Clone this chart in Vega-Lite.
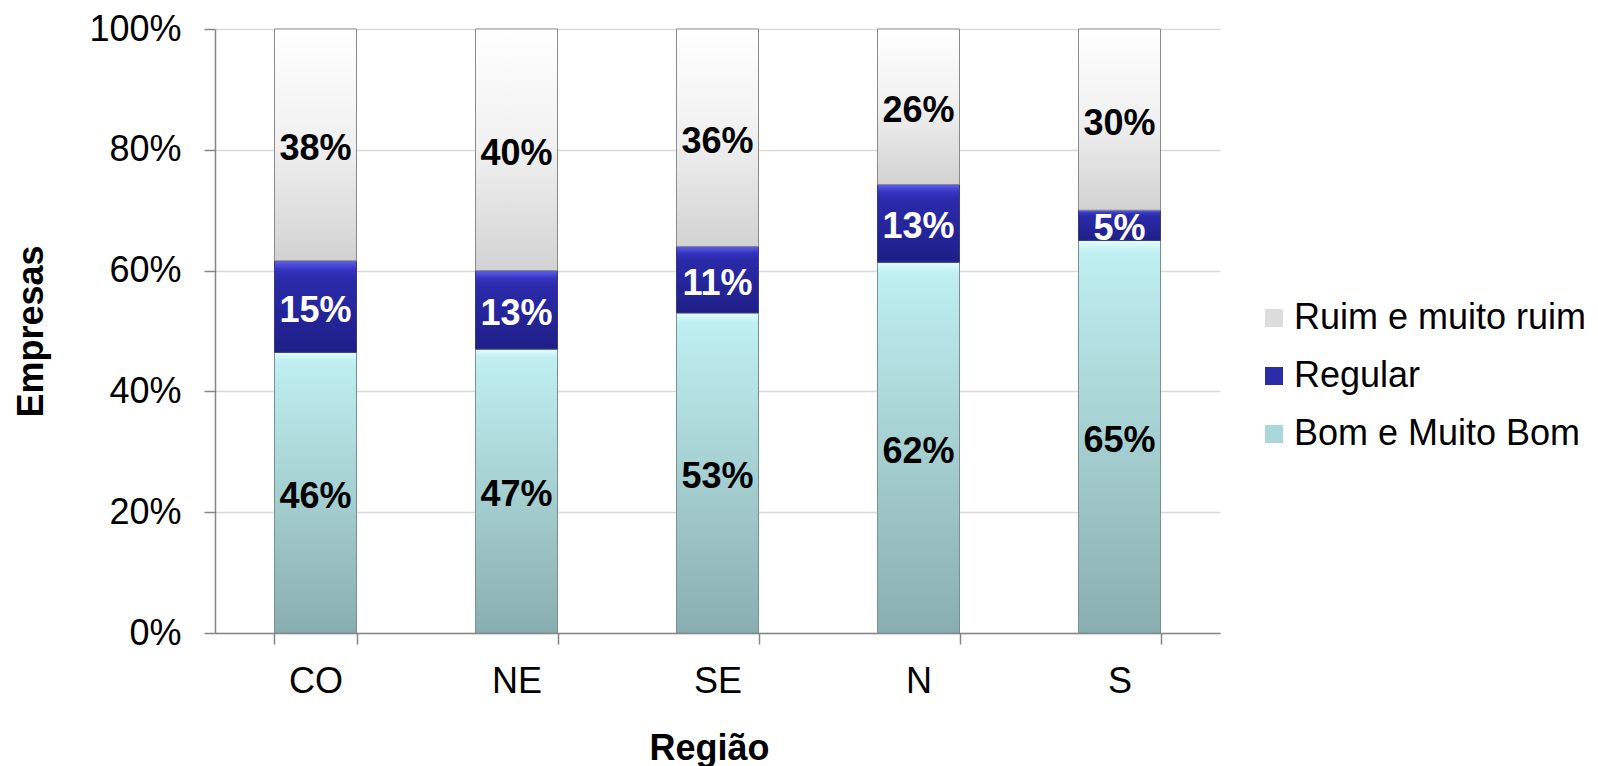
{
  "$schema": "https://vega.github.io/schema/vega-lite/v6.json",
  "autosize": {"type": "none"},
  "padding": {"left": 215, "top": 29, "right": 378, "bottom": 133},
  "width": 1005,
  "height": 604,
  "background": "white",
  "config": {
    "view": {"stroke": null},
    "font": "Liberation Sans",
    "axis": {
      "domainColor": "#868686",
      "domainWidth": 1.5,
      "tickColor": "#868686",
      "tickWidth": 1.5,
      "tickSize": 11,
      "gridColor": "#d9d9d9",
      "gridWidth": 1.5,
      "labelFont": "Liberation Sans",
      "labelFontSize": 36,
      "labelColor": "black",
      "titleFont": "Liberation Sans",
      "titleFontSize": 36,
      "titleFontWeight": "bold",
      "titleColor": "black"
    },
    "legend": {
      "labelFont": "Liberation Sans",
      "labelFontSize": 36,
      "labelColor": "black",
      "labelLimit": 0
    }
  },
  "data": {
    "values": [
      {"regiao": "CO", "cat": "Bom e Muito Bom", "value": 0.46},
      {"regiao": "CO", "cat": "Regular", "value": 0.15},
      {"regiao": "CO", "cat": "Ruim e muito ruim", "value": 0.38},
      {"regiao": "NE", "cat": "Bom e Muito Bom", "value": 0.47},
      {"regiao": "NE", "cat": "Regular", "value": 0.13},
      {"regiao": "NE", "cat": "Ruim e muito ruim", "value": 0.40},
      {"regiao": "SE", "cat": "Bom e Muito Bom", "value": 0.53},
      {"regiao": "SE", "cat": "Regular", "value": 0.11},
      {"regiao": "SE", "cat": "Ruim e muito ruim", "value": 0.36},
      {"regiao": "N", "cat": "Bom e Muito Bom", "value": 0.62},
      {"regiao": "N", "cat": "Regular", "value": 0.13},
      {"regiao": "N", "cat": "Ruim e muito ruim", "value": 0.26},
      {"regiao": "S", "cat": "Bom e Muito Bom", "value": 0.65},
      {"regiao": "S", "cat": "Regular", "value": 0.05},
      {"regiao": "S", "cat": "Ruim e muito ruim", "value": 0.30}
    ]
  },
  "transform": [
    {"stack": "value", "groupby": ["regiao"], "sort": [{"field": "cat", "order": "ascending"}], "offset": "normalize", "as": ["y0", "y1"]}
  ],
  "encoding": {
    "x": {
      "field": "regiao",
      "type": "nominal",
      "sort": ["CO", "NE", "SE", "N", "S"],
      "scale": {"paddingInner": 0.592, "paddingOuter": 0.296},
      "axis": {
        "title": "Região",
        "labelAngle": 0,
        "labelBaseline": "alphabetic",
        "labelPadding": 48,
        "tickBand": "extent",
        "grid": false,
        "titleX": 494,
        "titleY": 126,
        "titleAlign": "center",
        "titleBaseline": "alphabetic"
      }
    }
  },
  "layer": [
    {
      "mark": {"type": "bar"},
      "encoding": {
        "y": {
          "field": "y0",
          "type": "quantitative",
          "scale": {"domain": [0, 1], "nice": false},
          "axis": {
            "title": "Empresas",
            "format": ".0%",
            "values": [0, 0.2, 0.4, 0.6, 0.8, 1],
            "labelPadding": 23,
            "grid": true,
            "titleAngle": 270,
            "titleX": -173,
            "titleY": 302,
            "titleAlign": "center",
            "titleBaseline": "alphabetic"
          }
        },
        "y2": {"field": "y1"},
        "color": {
          "field": "cat",
          "type": "nominal",
          "scale": {
            "domain": ["Ruim e muito ruim", "Regular", "Bom e Muito Bom"],
            "range": ["#dcdcdc", "#2c2ca8", "#a9d8da"]
          },
          "legend": {
            "title": null,
            "orient": "none",
            "legendX": 1041,
            "legendY": 271,
            "padding": 0,
            "symbolType": "square",
            "symbolSize": 324,
            "symbolStrokeWidth": 0,
            "labelOffset": 2,
            "rowPadding": 22
          }
        }
      }
    },
    {
      "transform": [{"filter": "datum.cat === 'Bom e Muito Bom'"}],
      "mark": {
        "type": "bar",
        "stroke": "#7a8f90",
        "strokeWidth": 1,
        "color": {
          "gradient": "linear", "x1": 0, "y1": 0, "x2": 0, "y2": 1,
          "stops": [
            {"offset": 0, "color": "#e4fdfd"},
            {"offset": 0.03, "color": "#bfeff1"},
            {"offset": 1, "color": "#8aaeaf"}
          ]
        }
      },
      "encoding": {
        "y": {"field": "y0", "type": "quantitative"},
        "y2": {"field": "y1"}
      }
    },
    {
      "transform": [{"filter": "datum.cat === 'Regular'"}],
      "mark": {
        "type": "bar",
        "stroke": "#3a3a7a",
        "strokeWidth": 1,
        "color": {
          "gradient": "linear", "x1": 0, "y1": 0, "x2": 0, "y2": 1,
          "stops": [
            {"offset": 0, "color": "#6060f0"},
            {"offset": 0.1, "color": "#3434c0"},
            {"offset": 0.2, "color": "#2a2aaa"},
            {"offset": 1, "color": "#1f1f88"}
          ]
        }
      },
      "encoding": {
        "y": {"field": "y0", "type": "quantitative"},
        "y2": {"field": "y1"}
      }
    },
    {
      "transform": [{"filter": "datum.cat === 'Ruim e muito ruim'"}],
      "mark": {
        "type": "bar",
        "stroke": "#8a8a8a",
        "strokeWidth": 1,
        "color": {
          "gradient": "linear", "x1": 0, "y1": 0, "x2": 0, "y2": 1,
          "stops": [
            {"offset": 0, "color": "#ffffff"},
            {"offset": 0.5, "color": "#f0f0f0"},
            {"offset": 1, "color": "#d2d2d2"}
          ]
        }
      },
      "encoding": {
        "y": {"field": "y0", "type": "quantitative"},
        "y2": {"field": "y1"}
      }
    },
    {
      "mark": {"type": "text", "fontSize": 36, "fontWeight": "bold", "font": "Liberation Sans", "baseline": "middle", "dy": 4},
      "encoding": {
        "y": {"field": "value", "type": "quantitative", "stack": "normalize", "bandPosition": 0.5},
        "order": {"field": "cat", "sort": "ascending"},
        "text": {"field": "value", "type": "quantitative", "format": ".0%"},
        "color": {
          "condition": {"test": "datum.cat === 'Regular'", "value": "white"},
          "value": "black"
        }
      }
    }
  ]
}
